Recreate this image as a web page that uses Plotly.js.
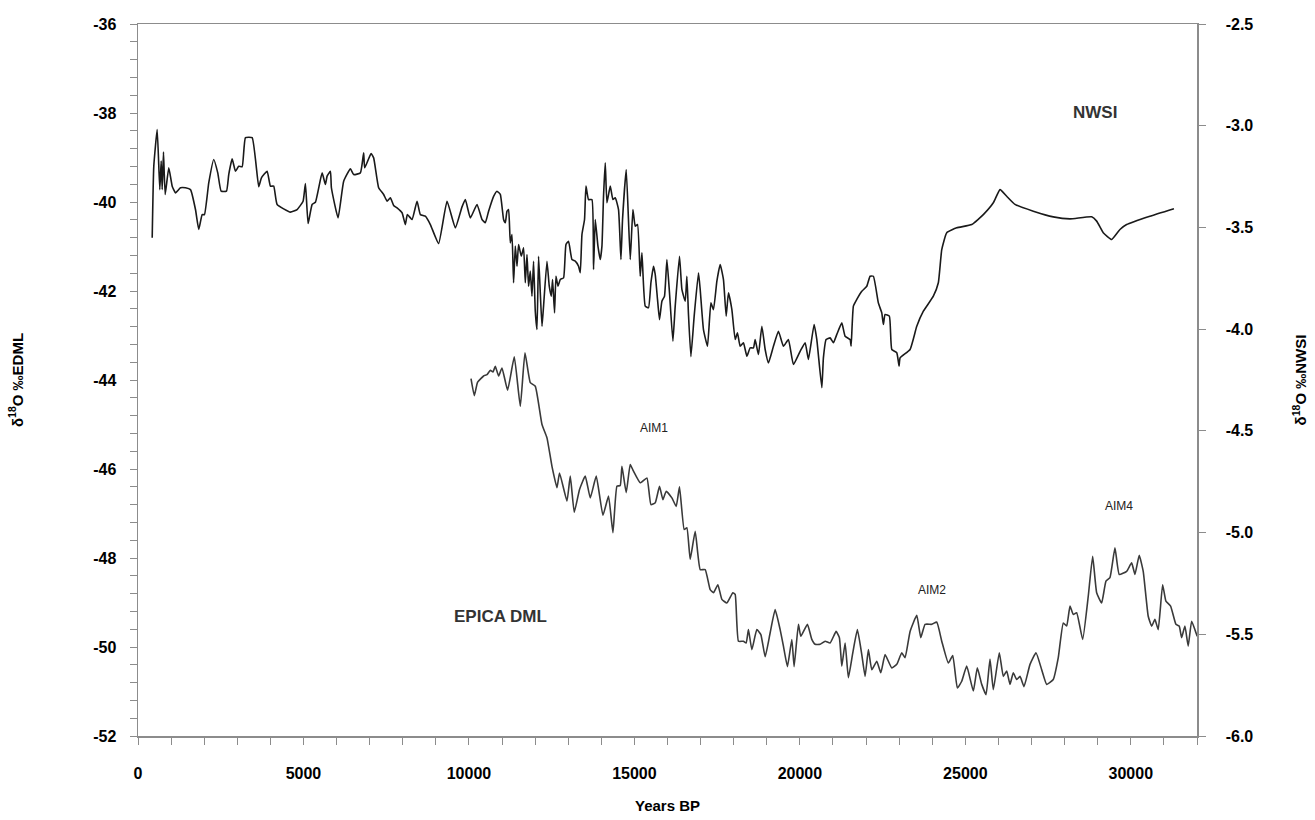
<!DOCTYPE html>
<html>
<head>
<meta charset="utf-8">
<script src="https://cdn.plot.ly/plotly-3.0.1.min.js"></script>
<style>
  html, body { margin: 0; padding: 0; background: #fff; }
  #chart { width: 1315px; height: 820px; }
</style>
</head>
<body>
<div id="chart"></div>
<script>
// NWSI record (right axis, δ18O ‰)
const nwsiYears = [429,477,580,658,701,731,770,821,930,1033,1133,1284,1435,1586,1737,1836,1939,2008,2138,2289,2410,2513,2673,2742,2845,2945,3044,3147,3247,3449,3648,3730,3902,4002,4101,4204,4606,4808,4989,5059,5140,5261,5361,5563,5663,5714,5814,5844,6046,6215,6418,6517,6720,6819,6849,7043,7121,7272,7423,7526,7626,7725,7828,7979,8079,8139,8281,8432,8532,8683,8834,9084,9338,9589,9791,9891,10042,10244,10395,10495,10594,10745,10848,10948,11047,11099,11150,11198,11250,11301,11349,11401,11452,11500,11582,11651,11703,11754,11802,11854,11905,11953,12005,12056,12104,12156,12207,12255,12358,12427,12488,12527,12587,12630,12690,12760,12859,12932,13010,13113,13213,13312,13364,13415,13493,13536,13614,13717,13765,13817,13898,13968,14019,14067,14119,14170,14270,14351,14421,14520,14593,14641,14753,14874,14955,15025,15094,15176,15227,15327,15426,15499,15577,15629,15698,15758,15831,15909,15982,16060,16163,16233,16362,16435,16535,16586,16634,16707,16806,16936,16988,17087,17208,17311,17389,17492,17592,17691,17773,17842,17945,18045,18114,18196,18295,18398,18498,18597,18649,18748,18851,18951,19050,19201,19352,19503,19654,19805,20008,20159,20258,20430,20512,20663,20711,20793,20914,21013,21116,21267,21367,21518,21548,21617,21720,21871,22022,22122,22221,22372,22475,22523,22575,22704,22777,22928,22997,23028,23330,23532,23731,24033,24184,24287,24438,24740,25193,25543,25845,26048,26250,26501,27053,27657,28162,28817,28968,29167,29421,29672,29874,30576,31303];
const nwsiValues = [-3.551,-3.199,-3.019,-3.314,-3.174,-3.314,-3.130,-3.338,-3.207,-3.297,-3.330,-3.305,-3.305,-3.314,-3.412,-3.510,-3.437,-3.437,-3.281,-3.166,-3.232,-3.322,-3.322,-3.240,-3.163,-3.224,-3.199,-3.202,-3.059,-3.059,-3.300,-3.256,-3.224,-3.297,-3.297,-3.387,-3.425,-3.412,-3.371,-3.284,-3.481,-3.387,-3.376,-3.232,-3.289,-3.248,-3.224,-3.305,-3.453,-3.273,-3.212,-3.240,-3.232,-3.133,-3.207,-3.137,-3.158,-3.305,-3.338,-3.371,-3.354,-3.392,-3.404,-3.428,-3.486,-3.437,-3.461,-3.371,-3.437,-3.445,-3.486,-3.579,-3.371,-3.502,-3.399,-3.363,-3.453,-3.387,-3.461,-3.477,-3.420,-3.347,-3.322,-3.338,-3.461,-3.477,-3.420,-3.412,-3.576,-3.535,-3.772,-3.592,-3.691,-3.584,-3.642,-3.600,-3.772,-3.633,-3.789,-3.715,-3.838,-3.666,-3.912,-4.002,-3.642,-3.821,-3.986,-3.887,-3.666,-3.789,-3.838,-3.756,-3.920,-3.740,-3.789,-3.756,-3.748,-3.584,-3.568,-3.658,-3.666,-3.691,-3.723,-3.535,-3.461,-3.297,-3.363,-3.363,-3.707,-3.461,-3.592,-3.658,-3.592,-3.347,-3.182,-3.379,-3.297,-3.363,-3.354,-3.412,-3.658,-3.461,-3.215,-3.658,-3.412,-3.494,-3.486,-3.740,-3.625,-3.887,-3.895,-3.772,-3.691,-3.731,-3.854,-3.953,-3.863,-3.838,-3.658,-3.821,-4.059,-3.887,-3.642,-3.805,-3.863,-3.740,-3.928,-4.135,-3.936,-3.723,-3.805,-4.002,-4.084,-3.871,-3.904,-3.764,-3.682,-3.756,-3.936,-3.821,-3.904,-4.051,-4.018,-4.084,-4.067,-4.133,-4.092,-4.092,-4.051,-4.125,-3.986,-4.100,-4.166,-4.084,-4.010,-4.084,-4.051,-4.174,-4.109,-4.067,-4.149,-3.977,-4.051,-4.288,-4.141,-4.051,-4.043,-4.067,-4.026,-3.969,-4.035,-4.051,-4.084,-3.887,-3.854,-3.814,-3.789,-3.740,-3.740,-3.871,-3.920,-3.977,-3.928,-3.936,-4.100,-4.116,-4.182,-4.141,-4.100,-3.986,-3.912,-3.838,-3.772,-3.609,-3.526,-3.502,-3.486,-3.437,-3.379,-3.314,-3.347,-3.387,-3.420,-3.448,-3.458,-3.448,-3.469,-3.526,-3.559,-3.510,-3.486,-3.445,-3.408];

// EPICA DML record (left axis, δ18O ‰)
const edmlYears = [10063,10162,10262,10443,10546,10646,10727,10797,10896,10999,11168,11370,11552,11693,11854,12005,12207,12358,12509,12660,12738,12962,13062,13182,13342,13515,13666,13847,14049,14218,14351,14472,14572,14623,14753,14874,14973,15176,15378,15499,15629,15758,15861,15961,16133,16263,16362,16504,16586,16686,16837,16988,17139,17290,17389,17522,17643,17794,17975,18045,18144,18295,18377,18446,18549,18700,18821,18951,19102,19253,19404,19503,19624,19757,19826,19956,20029,20228,20361,20461,20612,20763,20914,21095,21194,21267,21367,21466,21599,21738,21871,21971,22070,22173,22324,22445,22575,22777,22928,23079,23179,23330,23532,23653,23783,23985,24136,24287,24486,24619,24758,24891,25042,25241,25362,25495,25625,25745,25845,26026,26147,26250,26350,26448,26552,26652,26773,26954,27135,27307,27458,27657,27808,27959,28062,28162,28262,28364,28545,28714,28847,28968,29119,29249,29370,29521,29650,29874,30025,30125,30254,30375,30526,30629,30729,30828,30961,31061,31203,31363,31462,31535,31635,31734,31837,31937,32006];
const edmlValues = [-43.97,-44.35,-44.05,-43.91,-43.88,-43.78,-43.82,-43.69,-43.91,-43.73,-44.23,-43.48,-44.59,-43.39,-44.06,-44.14,-45.00,-45.30,-45.94,-46.42,-46.09,-46.72,-46.16,-46.97,-46.46,-46.16,-46.65,-46.16,-47.04,-46.61,-47.43,-46.39,-46.37,-45.94,-46.53,-45.90,-46.05,-46.31,-46.20,-46.80,-46.76,-46.39,-46.69,-46.50,-46.65,-46.84,-46.40,-47.36,-47.32,-48.03,-47.40,-48.26,-48.26,-48.71,-48.78,-48.60,-48.93,-49.01,-48.78,-48.82,-49.87,-49.87,-49.91,-49.61,-50.06,-49.61,-49.72,-50.22,-49.68,-49.16,-49.61,-49.98,-50.44,-49.83,-50.44,-49.49,-49.76,-49.49,-49.83,-49.94,-49.94,-49.87,-49.91,-49.65,-49.79,-50.43,-49.91,-50.69,-50.13,-49.61,-50.17,-50.66,-50.06,-50.51,-50.32,-50.58,-50.17,-50.47,-50.39,-50.13,-50.24,-49.65,-49.29,-49.79,-49.49,-49.49,-49.44,-49.87,-50.36,-50.19,-50.92,-50.77,-50.43,-50.99,-50.47,-50.84,-51.07,-50.27,-50.96,-50.13,-50.66,-50.54,-50.84,-50.58,-50.73,-50.66,-50.89,-50.39,-50.13,-50.51,-50.84,-50.73,-50.24,-49.46,-49.53,-49.08,-49.27,-49.23,-49.83,-48.86,-47.96,-48.78,-49.01,-48.52,-48.44,-47.77,-48.37,-48.30,-48.11,-48.37,-47.94,-48.30,-49.31,-49.53,-49.38,-49.61,-48.60,-48.97,-49.08,-49.49,-49.53,-49.79,-49.53,-49.98,-49.42,-49.61,-49.76];

// Tick labels (hyphen-minus as in the reference)
const xTickVals = [0, 5000, 10000, 15000, 20000, 25000, 30000];
const xTickText = ['0', '5000', '10000', '15000', '20000', '25000', '30000'];
const leftTickVals = [-52, -50, -48, -46, -44, -42, -40, -38, -36];
const leftTickText = ['-52', '-50', '-48', '-46', '-44', '-42', '-40', '-38', '-36'];
const rightTickVals = [-6.0, -5.5, -5.0, -4.5, -4.0, -3.5, -3.0, -2.5];
const rightTickText = ['-6.0', '-5.5', '-5.0', '-4.5', '-4.0', '-3.5', '-3.0', '-2.5'];

// Text labels
const labelTexts = ['NWSI', 'EPICA DML', 'AIM1', 'AIM2', 'AIM4'];
const labelYears = [28917, 10948, 15598, 23994, 29641];
const labelValues = [-37.99, -49.31, -45.07, -48.71, -46.84];
const labelBold = [true, true, false, false, false];

const xTitle = 'Years BP';
const yLeftTitle = 'δ<sup>18</sup>O ‰EDML';
const yRightTitle = 'δ<sup>18</sup>O ‰NWSI';

const FONT = 'Liberation Sans, Arial, sans-serif';
const AXIS_GRAY = '#8c8c8c';

const traces = [
  {
    x: nwsiYears, y: nwsiValues, yaxis: 'y2', type: 'scatter', mode: 'lines',
    line: { color: '#1a1a1a', width: 1.6, shape: 'spline', smoothing: 0.4 },
    hoverinfo: 'skip', showlegend: false
  },
  {
    x: edmlYears, y: edmlValues, yaxis: 'y', type: 'scatter', mode: 'lines',
    line: { color: '#3a3a3a', width: 1.6, shape: 'spline', smoothing: 0.4 },
    hoverinfo: 'skip', showlegend: false
  }
];

const annotations = labelTexts.map((t, i) => ({
  text: t, x: labelYears[i], y: labelValues[i], xref: 'x', yref: 'y',
  showarrow: false,
  font: labelBold[i]
    ? { family: FONT, size: 17, color: '#333333', weight: 'bold' }
    : { family: FONT, size: 12, color: '#222222' }
}));

const tickFont = { family: FONT, size: 16, color: '#000', weight: 'bold' };
const titleFont = { family: FONT, size: 15, color: '#000', weight: 'bold' };

const layout = {
  width: 1315, height: 820,
  margin: { l: 138, r: 118, t: 24, b: 84 },
  paper_bgcolor: '#fff', plot_bgcolor: '#fff',
  showlegend: false,
  xaxis: {
    range: [0, 32000], tickmode: 'array', tickvals: xTickVals, ticktext: xTickText,
    showgrid: false, zeroline: false,
    showline: true, linecolor: AXIS_GRAY, linewidth: 1.5, mirror: true,
    ticks: 'outside', ticklen: 7, tickcolor: AXIS_GRAY, tickwidth: 1,
    minor: { dtick: 1000, tick0: 0, ticks: 'outside', ticklen: 7, tickcolor: AXIS_GRAY, showgrid: false },
    tickfont: tickFont, ticklabelstandoff: 15,
    title: { text: xTitle, font: titleFont, standoff: 20 }
  },
  yaxis: {
    range: [-52, -36], tickmode: 'array', tickvals: leftTickVals, ticktext: leftTickText,
    showgrid: false, zeroline: false,
    showline: true, linecolor: AXIS_GRAY, linewidth: 1.5,
    ticks: 'outside', ticklen: 7, tickcolor: AXIS_GRAY, tickwidth: 1,
    minor: { dtick: 0.4, tick0: -52, ticks: 'outside', ticklen: 7, tickcolor: AXIS_GRAY, showgrid: false },
    tickfont: tickFont, ticklabelstandoff: 10,
    title: { text: yLeftTitle, font: titleFont, standoff: 66 }
  },
  yaxis2: {
    range: [-6, -2.5], tickmode: 'array', tickvals: rightTickVals, ticktext: rightTickText,
    overlaying: 'y', side: 'right',
    showgrid: false, zeroline: false,
    showline: true, linecolor: AXIS_GRAY, linewidth: 1.5,
    ticks: 'outside', ticklen: 7, tickcolor: AXIS_GRAY, tickwidth: 1,
    tickfont: tickFont, ticklabelstandoff: 17,
    title: { text: yRightTitle, font: titleFont, standoff: 43 }
  },
  annotations: annotations
};

Plotly.newPlot('chart', traces, layout, { staticPlot: true, displayModeBar: false });
</script>
</body>
</html>
